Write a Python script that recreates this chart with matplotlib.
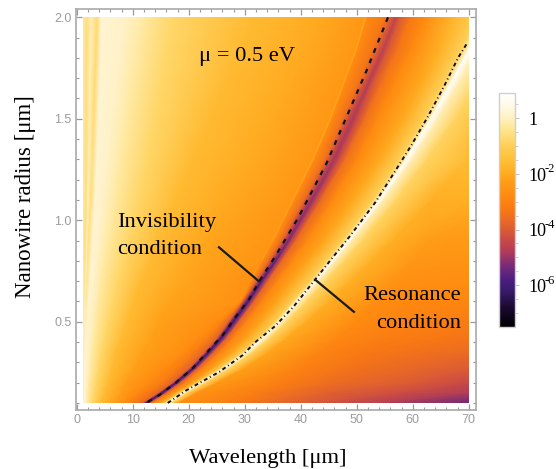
import numpy as np
import matplotlib
matplotlib.use("Agg")
import matplotlib.pyplot as plt
from matplotlib.colors import LinearSegmentedColormap, LogNorm
from matplotlib.patches import Rectangle
from matplotlib.ticker import FixedLocator, NullFormatter

# ---- data -----------------------------------------------------------
radius = [0.10, 0.15, 0.20, 0.27, 0.35, 0.42, 0.50, 0.60, 0.70, 0.80, 0.90, 1.10, 1.30, 1.50, 1.70, 1.85, 2.00]

# each ridge of the map: wavelength at every radius, and log10(level) along it
edge_wl = [1.1]*17
edge_lv = [0, 0, 0, 0, 0, 0, 0, -0.05, -0.1, -0.15, -0.2, -0.2, -0.2, -0.25, -0.25, -0.25, -0.25]
stripe1_wl = [1.15, 1.17, 1.2, 1.22, 1.25, 1.27, 1.3, 1.35, 1.4, 1.45, 1.5, 1.6, 1.65, 1.7, 1.7, 1.75, 1.8]
stripe1_lv = [0, 0, 0, 0, -0.1, -0.1, -0.1, -0.3, -0.5, -0.55, -0.6, -0.6, -0.6, -0.6, -0.6, -0.6, -0.6]
gap_wl = [1.2, 1.22, 1.25, 1.27, 1.3, 1.37, 1.45, 1.52, 1.6, 1.7, 1.8, 2.0, 2.15, 2.3, 2.4, 2.5, 2.6]
gap_lv = [0, 0, 0, 0, 0, -0.1, -0.1, -0.1, -0.1, -0.1, -0.1, -0.1, -0.1, -0.1, -0.1, -0.1, -0.1]
stripe2_wl = [1.25, 1.27, 1.3, 1.35, 1.4, 1.5, 1.6, 1.75, 1.9, 2.0, 2.1, 2.5, 2.8, 3.0, 3.3, 3.5, 3.6]
stripe2_lv = [0, 0, 0, 0, 0, -0.05, -0.1, -0.25, -0.4, -0.45, -0.5, -0.6, -0.6, -0.7, -0.7, -0.7, -0.7]
pale_wl = [1.3, 1.37, 1.45, 1.52, 1.6, 1.75, 1.9, 2.1, 2.3, 2.6, 2.9, 3.3, 3.6, 3.9, 4.1, 4.3, 4.4]
pale_lv = [0.2]*17
pale2_wl = [1.5, 1.6, 1.7, 1.85, 2.0, 2.2, 2.4, 2.7, 3.0, 3.4, 3.8, 4.6, 5.4, 6.2, 7.0, 7.7, 8.4]
pale2_lv = [0.1]*17
cream_wl = [1.9, 2.05, 2.2, 2.5, 2.8, 3.1, 3.4, 3.9, 4.4, 5.0, 5.6, 6.8, 7.9, 9.0, 10.1, 11.0, 12.0]
cream_lv = [-0.25]*17
yellow_wl = [2.8, 3.1, 3.4, 3.9, 4.4, 5.0, 5.6, 6.4, 7.2, 8.1, 9.0, 10.8, 12.4, 13.8, 15.2, 16.2, 17.0]
yellow_lv = [-0.8]*17
amber_wl = [4.4, 5.0, 5.6, 6.3, 7.0, 8.0, 9.0, 10.2, 11.5, 13.0, 14.5, 17.5, 20.5, 23.5, 26.5, 29.0, 31.0]
amber_lv = [-1.6]*17
deep_wl = [7.0, 8.0, 9.0, 10.5, 12.0, 13.5, 15.0, 17.0, 19.0, 21.2, 23.5, 27.5, 31.5, 35.0, 38.5, 41.0, 43.0]
deep_lv = [-2.3, -2.3, -2.3, -2.25, -2.2, -2.2, -2.2, -2.15, -2.1, -2.1, -2.1, -2.05, -2.0, -2.0, -2.0, -2.0, -2.0]
faintl_wl = [9.5, 11.2, 13.0, 15.8, 18.8, 21.5, 24.5, 28.9, 30.7, 32.7, 34.7, 38.3, 41.9, 45.0, 47.7, 49.7, 51.3]
faintl_lv = [-3.0, -2.9, -2.8, -2.8, -2.7, -2.7, -2.7, -2.6, -2.6, -2.5, -2.5, -2.45, -2.45, -2.45, -2.45, -2.45, -2.45]
faint_wl = [10.0, 12.0, 14.0, 16.8, 19.8, 22.5, 25.3, 29.2, 31.0, 33.0, 35.0, 38.6, 42.2, 45.3, 48.0, 50.0, 51.6]
faint_lv = [-3.2, -3.1, -3.0, -3.0, -2.9, -2.9, -2.8, -2.7, -2.5, -2.3, -2.2, -2.1, -2.1, -2.1, -2.1, -2.1, -2.1]
faintr_wl = [10.8, 13.0, 15.0, 17.8, 20.8, 23.5, 25.9, 29.5, 31.3, 33.3, 35.3, 38.9, 42.5, 45.6, 48.3, 50.3, 51.9]
faintr_lv = [-3.4, -3.3, -3.1, -3.1, -3.1, -3.1, -3.0, -2.95, -2.9, -2.85, -2.8, -2.8, -2.8, -2.8, -2.8, -2.8, -2.8]
outl_wl = [11.8, 14.6, 17.1, 20.05, 22.8, 25.05, 27.1, 29.65, 32.0, 34.4, 36.6, 40.6, 44.4, 47.6, 50.7, 53.0, 55.0]
outl_lv = [-3.8, -3.8, -3.8, -3.8, -3.8, -3.8, -3.8, -3.75, -3.7, -3.65, -3.6, -3.6, -3.5, -3.5, -3.4, -3.4, -3.3]
innl_wl = [12.2, 15.0, 17.5, 20.5, 23.3, 25.5, 27.6, 30.2, 32.6, 35.0, 37.3, 41.4, 45.3, 48.6, 51.7, 54.1, 56.2]
innl_lv = [-5.3, -5.3, -5.3, -5.3, -5.3, -5.3, -5.3, -5.2, -5.1, -4.9, -4.7, -4.6, -4.4, -4.4, -4.1, -4.1, -4.0]
dip_wl = [12.5, 15.3, 17.8, 20.8, 23.6, 25.8, 27.9, 30.6, 33.0, 35.5, 37.8, 42.0, 46.0, 49.3, 52.5, 54.9, 57.0]
dip_lv = [-6.2, -6.2, -6.2, -6.2, -6.2, -6.15, -6.1, -6.0, -5.9, -5.6, -5.3, -5.1, -4.9, -4.8, -4.7, -4.6, -4.5]
innr_wl = [12.8, 15.6, 18.1, 21.1, 23.9, 26.2, 28.4, 31.0, 33.4, 35.9, 38.3, 42.6, 46.7, 50.0, 53.3, 55.7, 57.8]
innr_lv = [-5.3, -5.3, -5.3, -5.3, -5.3, -5.3, -5.3, -5.2, -5.1, -4.9, -4.7, -4.6, -4.4, -4.4, -4.1, -4.1, -4.0]
outr_wl = [13.2, 16.0, 18.6, 21.6, 24.5, 26.8, 29.0, 31.7, 34.2, 36.7, 39.2, 43.7, 48.0, 51.5, 54.9, 57.4, 59.6]
outr_lv = [-3.8, -3.8, -3.8, -3.8, -3.8, -3.8, -3.8, -3.75, -3.7, -3.65, -3.6, -3.6, -3.5, -3.5, -3.4, -3.4, -3.3]
post_wl = [13.7, 16.6, 19.4, 22.5, 25.6, 28.0, 30.4, 33.2, 36.0, 38.6, 41.2, 45.8, 50.2, 53.8, 57.3, 59.9, 62.2]
post_lv = [-3.0, -3.0, -3.0, -3.0, -3.0, -2.95, -2.9, -2.85, -2.8, -2.8, -2.8, -2.8, -2.8, -2.8, -2.8, -2.8, -2.8]
mid_wl = [14.8, 17.5, 20.6, 24.1, 27.7, 30.4, 32.9, 35.8, 38.5, 41.3, 44.2, 49.5, 54.2, 58.3, 62.0, 64.8, 67.5]
mid_lv = [-2.4, -2.35, -2.3, -2.2, -2.1, -2.1, -2.1, -2.1, -2.1, -2.1, -2.1, -2.0, -2.0, -2.0, -2.0, -1.9, -1.7]
halol_wl = [15.8, 18.45, 21.6, 25.65, 29.6, 32.55, 35.4, 38.55, 41.7, 44.6, 47.5, 52.9, 57.7, 62.0, 65.9, 68.7, 71.4]
halol_lv = [-1.0]*17
nearl_wl = [16.05, 18.75, 21.95, 26.05, 30.05, 33.03, 35.9, 39.1, 42.3, 45.3, 48.2, 53.7, 58.6, 63.0, 67.0, 69.9, 72.7]
nearl_lv = [-0.1]*17
peak_wl = [16.3, 19.0, 22.2, 26.3, 30.3, 33.3, 36.2, 39.4, 42.6, 45.6, 48.5, 54.0, 58.9, 63.3, 67.3, 70.2, 73.0]
peak_lv = [0.85]*17
nearr_wl = [16.55, 19.27, 22.5, 26.63, 30.65, 33.67, 36.6, 39.85, 43.1, 46.15, 49.1, 54.8, 59.9, 64.5, 68.7, 71.7, 74.6]
nearr_lv = [-0.1]*17
halor_wl = [17.0, 19.8, 23.1, 27.4, 31.5, 34.6, 37.7, 41.2, 44.6, 47.9, 51.1, 57.2, 62.7, 67.7, 72.3, 75.5, 78.6]
halor_lv = [-0.9]*17
afterr_wl = [18.3, 21.5, 25.2, 30.0, 34.3, 37.6, 41.2, 45.2, 49.1, 52.8, 56.5, 63.5, 69.9, 75.8, 81.3, 85.2, 89.0]
afterr_lv = [-2.7, -2.55, -2.4, -2.25, -2.1, -2.05, -2.0, -1.95, -1.9, -1.9, -1.9, -1.9, -1.6, -1.9, -1.9, -1.9, -1.9]
far1_wl = [28.0, 32.0, 36.0, 40.0, 44.0, 47.0, 50.0, 53.5, 57.0, 60.0, 63.0, 70.0, 76.0, 82.0, 87.0, 90.0, 94.0]
far1_lv = [-3.2, -3.15, -3.1, -3.05, -3.0, -2.9, -2.8, -2.7, -2.6, -2.45, -2.3, -1.9, -1.6, -2.0, -2.0, -2.0, -2.0]
far2_wl = [42.0, 44.0, 46.0, 49.0, 52.0, 55.0, 58.0, 61.0, 64.0, 66.0, 68.0, 75.0, 80.0, 86.0, 91.0, 94.0, 97.0]
far2_lv = [-4.0, -3.85, -3.6, -3.45, -3.3, -3.15, -3.0, -2.85, -2.7, -2.55, -2.4, -2.0, -2.0, -2.0, -2.0, -2.0, -2.0]
far3_wl = [55.0, 57.5, 60.0, 61.0, 62.0, 64.0, 66.0, 68.0, 70.0, 71.0, 72.0, 78.0, 84.0, 90.0, 94.0, 97.0, 100.0]
far3_lv = [-4.7, -4.3, -4.0, -3.75, -3.5, -3.3, -3.1, -2.9, -2.7, -2.55, -2.4, -2.0, -2.0, -2.0, -2.0, -2.0, -2.0]
right_wl = [70.0, 70.0, 70.0, 70.0, 70.0, 70.0, 70.0, 71.0, 72.0, 73.0, 74.0, 80.0, 86.0, 92.0, 96.0, 99.0, 102.0]
right_lv = [-5.4, -4.8, -4.4, -4.0, -3.6, -3.4, -3.2, -2.95, -2.7, -2.55, -2.4, -2.0, -2.0, -2.0, -2.0, -2.0, -2.0]

ridges_wl = [edge_wl, stripe1_wl, gap_wl, stripe2_wl, pale_wl, pale2_wl, cream_wl, yellow_wl,
             amber_wl, deep_wl, faintl_wl, faint_wl, faintr_wl, outl_wl, innl_wl, dip_wl,
             innr_wl, outr_wl, post_wl, mid_wl, halol_wl, nearl_wl, peak_wl, nearr_wl,
             halor_wl, afterr_wl, far1_wl, far2_wl, far3_wl, right_wl]
ridges_lv = [edge_lv, stripe1_lv, gap_lv, stripe2_lv, pale_lv, pale2_lv, cream_lv, yellow_lv,
             amber_lv, deep_lv, faintl_lv, faint_lv, faintr_lv, outl_lv, innl_lv, dip_lv,
             innr_lv, outr_lv, post_lv, mid_lv, halol_lv, nearl_lv, peak_lv, nearr_lv,
             halor_lv, afterr_lv, far1_lv, far2_lv, far3_lv, right_lv]

# overlaid condition curves
inv_wl = [12.7, 14.75, 17.7, 20.7, 23.6, 26.1, 28.4, 30.8, 32.6, 35.4, 39.5, 44.6, 48.2, 51.8, 55.6]
inv_r = [0.105, 0.139, 0.20, 0.271, 0.36, 0.435, 0.525, 0.611, 0.70, 0.82, 1.01, 1.28, 1.51, 1.74, 2.00]
res_wl = [16.25, 19.5, 25.5, 29.6, 32.0, 35.4, 38.7, 42.5, 45.8, 48.8, 53.3, 57.0, 59.8, 62.7, 65.6, 68.1, 69.6]
res_r = [0.10, 0.161, 0.254, 0.335, 0.402, 0.478, 0.574, 0.705, 0.82, 0.922, 1.087, 1.248, 1.371, 1.51, 1.66, 1.80, 1.867]

xticks = [0, 10, 20, 30, 40, 50, 60, 70]
yticks = [0.5, 1.0, 1.5, 2.0]
cbar_ticks = [1, 1e-2, 1e-4, 1e-6]
cbar_main = ['1', '10', '10', '10']
cbar_sup = ['', '-2', '-4', '-6']

# colour scale: log10(level) -> colour
cmap_lv = [-7.5, -6.8, -6.2, -5.8, -5.3, -4.8, -4.4, -3.9, -3.3, -2.8, -2.2, -1.8, -1.0, -0.4, 0.0, 0.5, 0.9]
cmap_col = ['#000000', '#1a0a30', '#3a1a6a', '#4a2080', '#7a2a78', '#b03c58', '#c84848', '#e06030',
            '#f87814', '#ff8a10', '#ffa018', '#ffb428', '#ffcf55', '#ffe590', '#fff0c0', '#fffaea', '#ffffff']
# ---------------------------------------------------------------------

W, H = 556, 469
fig = plt.figure(figsize=(W/100, H/100), dpi=100)

def box(l, t, r, b):
    return [l/W, 1-b/H, (r-l)/W, (b-t)/H]

ax = fig.add_axes(box(75.7, 9.5, 475.7, 410))
ax.set_xlim(-0.18, 71.25)
ax.set_ylim(0.0655, 2.038)

cmap = LinearSegmentedColormap.from_list(
    'm', [((v-cmap_lv[0])/(cmap_lv[-1]-cmap_lv[0]), c) for v, c in zip(cmap_lv, cmap_col)], N=512)
norm = LogNorm(vmin=10**cmap_lv[0], vmax=10**cmap_lv[-1])

X = np.array(ridges_wl, float).T
Y = np.repeat(np.array(radius)[:, None], X.shape[1], axis=1)
C = 10.0**np.array(ridges_lv, float).T
assert np.all(np.diff(X, axis=1) >= 0), np.argwhere(np.diff(X, axis=1) < 0)
mesh = ax.pcolormesh(X, Y, C, shading='gouraud', cmap=cmap, norm=norm, rasterized=True)
mesh.set_clip_path(Rectangle((1.1, 0.1), 68.9, 1.9, transform=ax.transData))

ax.plot(inv_wl, inv_r, color='#111111', lw=1.6, ls=(0, (2.2, 2.8)), dash_capstyle='butt')
ax.plot(res_wl, res_r, color='#111111', lw=1.4, ls=(0, (2, 1.5, 0.5, 1.5)), dash_capstyle='butt')

ax.plot([25.4, 32.5], [0.867, 0.70], color='#1a1a1a', lw=1.6)
ax.plot([42.6, 49.5], [0.707, 0.549], color='#1a1a1a', lw=1.6)

GR = '#a9a9a9'
for s in ax.spines.values():
    s.set_color(GR)
    s.set_linewidth(1.2)
ax.set_xticks(xticks)
ax.set_yticks(yticks)
ax.xaxis.set_minor_locator(FixedLocator(np.arange(0, 71, 2)))
ax.yaxis.set_minor_locator(FixedLocator(np.arange(1, 21)/10))
ax.tick_params(which='major', direction='in', length=4, width=0.9, color='#999999', top=True, right=True,
               labelsize=9, labelcolor='#9c9c9c', pad=3)
ax.tick_params(which='minor', direction='in', length=2.2, width=0.8, color='#999999', top=True, right=True)
for lab in ax.get_xticklabels()+ax.get_yticklabels():
    lab.set_family('Liberation Sans')

serif = dict(family='Liberation Serif', fontsize=16.2, color='black')
px = lambda x, y: (x/W, 1-y/H)
fig.text(*px(267.5, 463), 'Wavelength [μm]', ha='center', va='baseline', **serif)
fig.text(*px(26, 196.5), 'Nanowire radius [μm]', ha='center', va='center', rotation=90,
         family='Liberation Serif', fontsize=16.5, color='black')
fig.text(*px(199, 61), 'μ = 0.5 eV', ha='left', va='baseline', **serif)
fig.text(*px(117, 226.5), 'Invisibility', ha='left', va='baseline', **serif)
fig.text(*px(117, 254), 'condition', ha='left', va='baseline', **serif)
fig.text(*px(461, 300), 'Resonance', ha='right', va='baseline', **serif)
fig.text(*px(461, 327.5), 'condition', ha='right', va='baseline', **serif)

cax = fig.add_axes(box(499, 93, 515, 327))
cb = fig.colorbar(mesh, cax=cax)
cb.outline.set_edgecolor('#cfcfcf')
cb.outline.set_linewidth(1.0)
cb.set_ticks(cbar_ticks)
cb.set_ticklabels(['']*len(cbar_ticks))
cax.yaxis.set_minor_locator(FixedLocator(10.0**np.arange(-7, 1, 0.5)))
cax.yaxis.set_minor_formatter(NullFormatter())
cax.tick_params(which='major', length=3, width=0.7, color='#c0c0c0')
cax.tick_params(which='minor', length=2, width=0.6, color='#c8c8c8')

# tick labels of the colour bar: base text plus a raised exponent
trans = cax.get_yaxis_transform()
for value, main, sup in zip(cbar_ticks, cbar_main, cbar_sup):
    cax.annotate(main, xy=(29/16, value), xycoords=trans, xytext=(0, -5), textcoords='offset points',
                 family='Liberation Serif', fontsize=13, color='black', ha='left', va='baseline',
                 annotation_clip=False)
    if sup:
        cax.annotate(sup, xy=(46/16, value), xycoords=trans, xytext=(0, 1), textcoords='offset points',
                     family='Liberation Serif', fontsize=9, color='black', ha='left', va='baseline',
                     annotation_clip=False)

fig.savefig('out.png', dpi=100)
